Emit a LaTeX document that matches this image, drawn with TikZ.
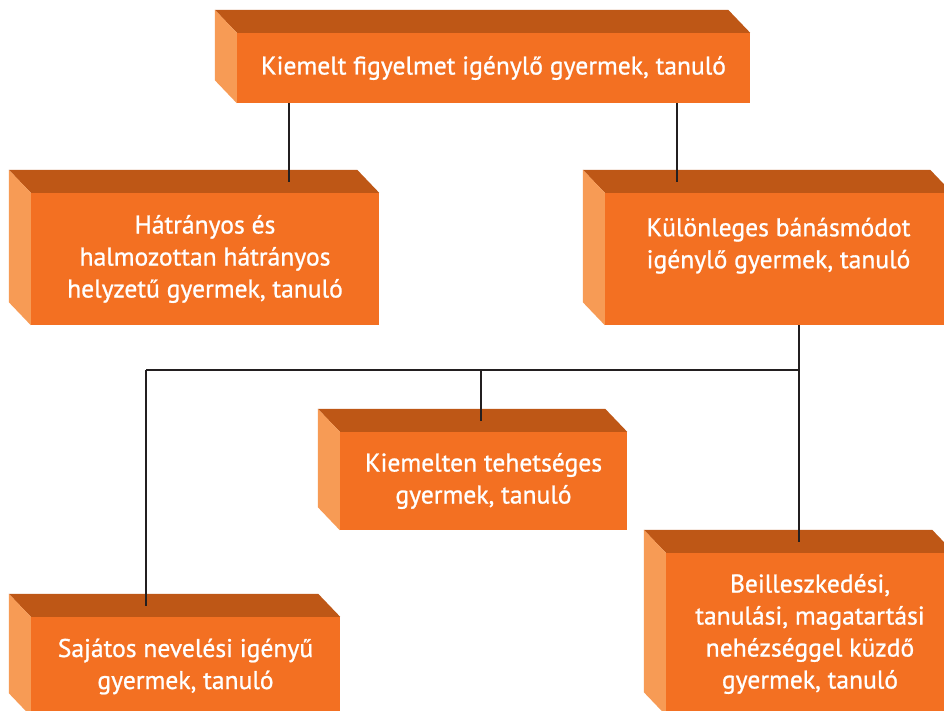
\documentclass[tikz,border=0pt]{standalone}
\usepackage{fontspec}
\setmainfont{PT Sans}
\newfontfamily\boxfont{PT Sans}[FakeBold=0.9]

\definecolor{facecol}{HTML}{F37022}
\definecolor{topcol}{HTML}{BE5716}
\definecolor{sidecol}{HTML}{F79B55}
\definecolor{linecol}{HTML}{231F20}

% top and left faces of a box, drawn behind its front node
\newcommand\cubesides[1]{%
	\fill[topcol] (#1.north west) -- ([shift={(-22pt,23pt)}]#1.north west) -- ([shift={(-22pt,23pt)}]#1.north east) -- (#1.north east) -- cycle;
	\fill[sidecol] (#1.north west) -- ([shift={(-22pt,23pt)}]#1.north west) -- ([shift={(-22pt,23pt)}]#1.south west) -- (#1.south west) -- cycle;}

\tikzset{
	cube/.style={fill=facecol,text=white,align=center,inner sep=0pt},
	thickline/.style={draw=linecol,line width=2.4pt},
	thinline/.style={draw=linecol,line width=1.2pt}
}

\begin{document}
\begin{tikzpicture}[x=1pt,y=-1pt,font={\boxfont\fontsize{25.6}{32}\selectfont}]
\clip (0,0) rectangle (944,711);
\fill[white] (0,0) rectangle (944,711);

\node[cube,minimum width=513pt,minimum height=70pt] (top) at (493.5,68) {Kiemelt figyelmet igénylő gyermek, tanuló};
\node[cube,minimum width=348pt,minimum height=132pt] (hatr) at (205,259) {Hátrányos és\\halmozottan hátrányos\\helyzetű gyermek, tanuló};
\node[cube,minimum width=347pt,minimum height=132pt] (kul) at (778.5,259) {Különleges bánásmódot\\igénylő gyermek, tanuló\\\mbox{}};
\node[cube,minimum width=287pt,minimum height=98pt] (tehet) at (483.5,481) {Kiemelten tehetséges\\gyermek, tanuló};
\node[cube,minimum width=309pt,minimum height=99pt] (sajat) at (185.5,666.5) {Sajátos nevelési igényű\\gyermek, tanuló};
\node[cube,minimum width=288pt,minimum height=162pt] (beill) at (810,634) {Beilleszkedési,\\tanulási, magatartási\\nehézséggel küzdő\\gyermek, tanuló};

\foreach \b in {top,hatr,kul,tehet,sajat,beill} {
	\cubesides{\b}
}

% connectors
\coordinate (jl) at (289,0);
\coordinate (jr) at (677,0);
\coordinate (barr) at (799,370);
\coordinate (barl) at (146,370);
\coordinate (barm) at (481,370);

\draw[thickline] (top.south -| jl) -- ([yshift=11pt]hatr.north -| jl);
\draw[thickline] (top.south -| jr) -- ([yshift=11pt]kul.north -| jr);
\draw[thickline] (kul.south -| barr) -- (barr) -- (barl);
\draw[thinline] (barl) -- ([yshift=11pt]sajat.north -| barl);
\draw[thinline] (barm) -- ([yshift=11pt]tehet.north -| barm);
\draw[thinline] (barr) -- ([yshift=11pt]beill.north -| barr);

\end{tikzpicture}
\end{document}
